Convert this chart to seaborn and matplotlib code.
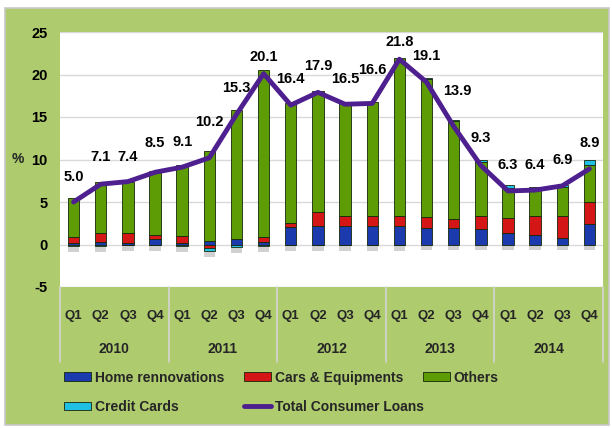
import numpy as np
import pandas as pd
import matplotlib
matplotlib.use("Agg")
import matplotlib.pyplot as plt
import matplotlib.transforms as mtransforms
from matplotlib.patches import Rectangle, Patch
from matplotlib.lines import Line2D
import seaborn as sns

# data
quarters = ["Q1", "Q2", "Q3", "Q4"] * 5
years = ["2010", "2011", "2012", "2013", "2014"]
home = [0.2, 0.3, 0.2, 0.7, 0.2, 0.45, 0.6, 0.3, 2.1, 2.2, 2.2, 2.2,
        2.2, 2.0, 2.0, 1.8, 1.3, 1.1, 0.8, 2.4]
cars = [0.7, 1.0, 1.2, 0.4, 0.8, -0.4, 0.0, 0.6, 0.4, 1.6, 1.1, 1.1,
        1.1, 1.2, 1.0, 1.6, 1.8, 2.2, 2.5, 2.6]
others = [4.6, 6.1, 5.9, 7.5, 8.3, 10.6, 15.2, 19.6, 14.1, 14.3, 13.4, 13.5,
          18.7, 16.3, 11.5, 6.3, 3.6, 3.3, 3.5, 4.3]
credit = [-0.2, -0.2, -0.1, -0.1, -0.2, -0.4, -0.3, -0.2, -0.1, -0.1, -0.1, -0.1,
          -0.1, 0.1, 0.1, 0.3, 0.3, 0.2, 0.2, 0.6]
total = [5.0, 7.1, 7.4, 8.5, 9.1, 10.2, 15.3, 20.1, 16.4, 17.9, 16.5, 16.6,
         21.8, 19.1, 13.9, 9.3, 6.3, 6.4, 6.9, 8.9]

# label placement (pixels above each point), as laid out in the original
label_dy = [25, 27, 25, 29, 25, 36, 26, 17, 26, 26, 25, 33,
            17, 26, 35, 27, 26, 25, 26, 26]
label_dx = [0] * 14 + [4] + [0] * 5

series = [("Home rennovations", home, "#1A3AAE"),
          ("Cars & Equipments", cars, "#D41616"),
          ("Others", others, "#5E9C06"),
          ("Credit Cards", credit, "#1FC0E4")]
edge = "#16260A"
line_color = "#4E1F8E"

sns.set_theme(style="white")
plt.rcParams["font.family"] = ["Liberation Sans", "DejaVu Sans"]
plt.rcParams["font.weight"] = "bold"

fig = plt.figure(figsize=(6.12, 4.28), dpi=100)
fig.patch.set_facecolor("white")
fig.patches.append(Rectangle((5 / 612, 3 / 428), 604 / 612, 417 / 428,
                             transform=fig.transFigure, facecolor="#AECB6E",
                             edgecolor="#C8C8C8", lw=1.2, zorder=-10))

ax = fig.add_axes([60 / 612, 1 - 287 / 428, 543 / 612, 255 / 428])
ax.set_facecolor("white")

x = np.arange(len(total))
bw = 0.42
pos_bottom = np.zeros(len(x))
neg_bottom = np.zeros(len(x))
for name, vals, color in series:
    v = np.array(vals)
    bottom = np.where(v >= 0, pos_bottom, neg_bottom)
    ax.bar(x, v, bottom=bottom, width=bw, color=color,
           edgecolor=edge, linewidth=0.6, zorder=3)
    pos_bottom += np.where(v >= 0, v, 0)
    neg_bottom += np.where(v < 0, v, 0)

# soft shadow under each bar
ax.bar(x, -0.6, bottom=neg_bottom - 0.1, width=bw, color="#9A9A9A",
       alpha=0.45, linewidth=0, zorder=2)

df = pd.DataFrame({"x": x, "total": total})
sns.lineplot(data=df, x="x", y="total", color=line_color, lw=3.5, ax=ax, zorder=5)

for xi, t, dx, dy in zip(x, total, label_dx, label_dy):
    ax.annotate(f"{t:.1f}", (xi, t), xytext=(dx, dy), textcoords="offset pixels",
                ha="center", va="center", fontsize=10.5, fontweight="bold", color="black")

ax.set_ylim(-5, 25)
ax.set_xlim(-0.5, 19.5)
ax.set_yticks(range(-5, 26, 5))
ax.set_yticklabels([str(v) for v in range(-5, 26, 5)], fontsize=10.5, fontweight="bold")
ax.tick_params(axis="y", length=0, pad=9, colors="black")
ax.set_xticks([])
ax.yaxis.grid(True, color="#D9D9D9", lw=1, zorder=0)
ax.set_axisbelow(True)
for s in ax.spines.values():
    s.set_visible(False)
ax.set_xlabel("")
ax.set_ylabel("")
fig.text(18 / 612, 1 - 159 / 428, "%", ha="center", va="center",
         fontsize=10, fontweight="bold")

trans = mtransforms.blended_transform_factory(ax.transData, ax.transAxes)
for xi, q in zip(x, quarters):
    ax.text(xi, -0.114, q, transform=trans, ha="center", va="center",
            fontsize=9.5, fontweight="bold")
for i, yr in enumerate(years):
    ax.text(4 * i + 1.5, -0.243, yr, transform=trans, ha="center", va="center",
            fontsize=10, fontweight="bold")
for xb in [-0.5, 3.5, 7.5, 11.5, 15.5, 19.5]:
    ax.plot([xb, xb], [0, -0.295], transform=trans, color="#D4D4D4", lw=1.2, clip_on=False)

# legend, one column at a time to match the original spacing
def patch(c):
    return Patch(facecolor=c, edgecolor=edge, lw=0.6)

columns = [
    ([patch(series[0][2]), patch(series[3][2])], ["Home rennovations", "Credit Cards"], 58),
    ([patch(series[1][2]), Line2D([0], [0], color=line_color, lw=3.5)],
     ["Cars & Equipments", "Total Consumer Loans"], 238),
    ([patch(series[2][2])], ["Others"], 417),
]
for hs, ls, x0 in columns:
    fig.legend(hs, ls, loc="upper left", bbox_to_anchor=(x0 / 612, 1 - 365 / 428),
               frameon=False, handlelength=1.95, handleheight=0.6,
               handletextpad=0.3, labelspacing=1.1, borderaxespad=0,
               prop={"weight": "bold", "size": 10})

fig.savefig("out.png", dpi=100)
